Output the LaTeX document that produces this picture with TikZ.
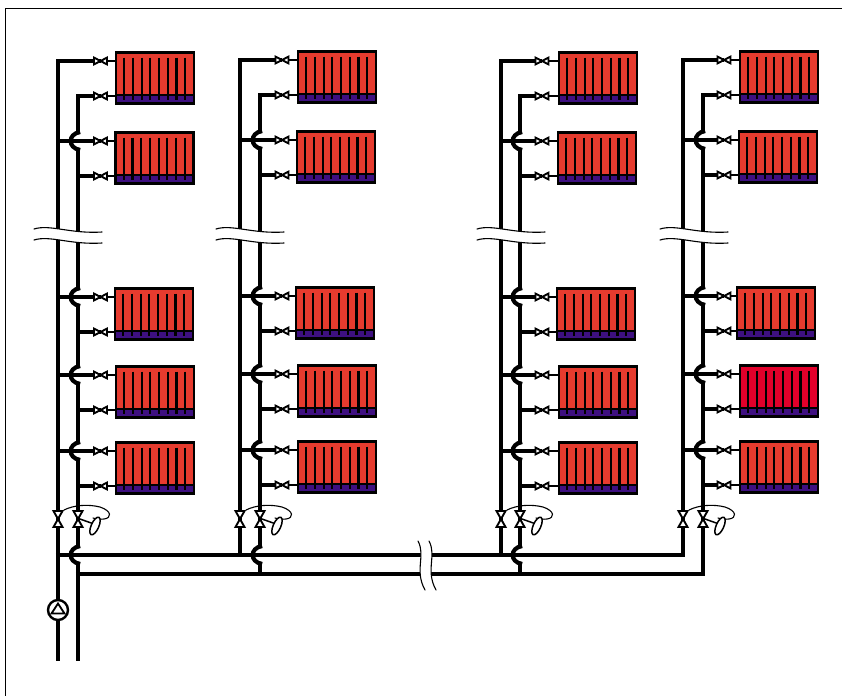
\documentclass[tikz,border=0pt]{standalone}
\definecolor{radred}{HTML}{E63B2E}
\definecolor{hotred}{HTML}{E2002A}
\definecolor{radblue}{HTML}{3E1080}
\tikzset{
  pipe/.style={line width=4.2pt,line cap=butt,line join=miter},
  stub/.style={line width=2.4pt},
  thinline/.style={line width=1.1pt,line cap=round},
  valvepart/.style={draw=black,fill=white,line width=1.9pt,line join=miter},
  radbody/.style={draw=black,line width=2.8pt,inner sep=0pt,outer sep=0pt,minimum width=78pt,minimum height=50.4pt},
  fin/.style={line width=2.1pt},
}
% horizontal valve: centre x, y
\newcommand{\valveH}[2]{%
  \draw[valvepart] (#1,#2) -- (#1-6.5,#2-3.4) -- (#1-6.5,#2+3.4) -- cycle;
  \draw[valvepart] (#1,#2) -- (#1+6.5,#2-3.4) -- (#1+6.5,#2+3.4) -- cycle;
}
\newcommand{\valveV}[2]{%
  \draw[valvepart] (#1,#2) -- (#1-4.5,#2-8) -- (#1+4.5,#2-8) -- cycle;
  \draw[valvepart] (#1,#2) -- (#1-4.5,#2+8) -- (#1+4.5,#2+8) -- cycle;
}
% radiator: name, left x, top y, colour
\newcommand{\radiator}[4]{%
  \node[radbody,fill=#4,anchor=north west] (#1) at (#2+0.9,#3+0.7) {};
  \fill[radblue] (#2+1,#3+43) rectangle (#2+79,#3+51);
  \foreach \k in {0,...,7}{\draw[fin] (#2+9.3+8.7*\k,#3+5.5) -- (#2+9.3+8.7*\k,#3+48);}
  \draw[black,line width=2.8pt] (#1.north west) rectangle (#1.south east);
  \draw[black,line width=1.2pt] (#1.west |- 0,#3+43) -- (#1.east |- 0,#3+43);
}
\newcommand{\gap}[2]{\draw[white,line width=5.5pt] (#1,#2-7) -- (#1,#2+7);}
% crossing hop on the return pipe at (x,y)
\newcommand{\hop}[2]{%
  \draw[pipe] (#1+2.1,#2-9) .. controls (#1-10.5,#2-7) and (#1-10.5,#2+7) .. (#1+2.1,#2+9);
}
% break marks across a riser
\newcommand{\breakmark}[2]{%
  \fill[white] (#1-24,#2-2) .. controls (#1-8,#2-7) and (#1+12,#2+3) .. (#1+44,#2+1)
     -- (#1+44,#2+12) .. controls (#1+12,#2+14) and (#1-8,#2+4) .. (#1-24,#2+9) -- cycle;
  \draw[thinline] (#1-24,#2-2) .. controls (#1-8,#2-7) and (#1+12,#2+3) .. (#1+44,#2+1);
  \draw[thinline] (#1-24,#2+9) .. controls (#1-8,#2+4) and (#1+12,#2+14) .. (#1+44,#2+12);
}
% regulator valves with capillary and handwheel: left, right pipe x
\newcommand{\regulator}[2]{%
  \valveV{#1}{519}\valveV{#2}{519}
  \draw[thinline] (#1+6,510) .. controls (#1+16,505) and (#1+30,504) .. (#1+42,507)
     .. controls (#1+54,511) and (#1+54,518) .. (#1+46,519) .. controls (#1+42,519.5) and (#1+38,519) .. (#1+35,518);
  \draw[line width=1.5pt] (#2+2,519) -- (#2+16,524);
  \draw[draw=black,fill=white,line width=1.5pt] (#2+17,526) ellipse[x radius=3.8,y radius=9.5,rotate=-24];
}
% one riser pair: left pipe, right pipe, valve x, y offset, bottom y
\newcommand{\riser}[5]{%
  \draw[pipe] (#1,#5) -- (#1,60+#4) -- (#3,60+#4);
  \draw[pipe] (#2,#5+19) -- (#2,95+#4) -- (#3,95+#4);
  \foreach \s/\r in {140/175,296/331,374/409,450/485}{
    \gap{#2}{\s+#4}
    \draw[pipe] (#1,\s+#4) -- (#3,\s+#4);
    \hop{#2}{\s+#4}
    \draw[pipe] (#2,\r+#4) -- (#3,\r+#4);
  }
  \foreach \s in {60,95,140,175,296,331,374,409,450,485}{
    \draw[stub] (#3,\s+#4) -- (#3+20,\s+#4);
    \valveH{#3}{\s+#4}
  }
}
\begin{document}
\begin{tikzpicture}[x=1pt,y=-1pt]
\useasboundingbox (0,0) rectangle (842,696);
\fill[white] (0,0) rectangle (842,696);
\draw[line width=0.9pt] (842,8.5) -- (5.5,8.5) -- (5.5,696);
% risers
\riser{58}{78}{100.5}{1}{555}
\riser{240}{260}{282}{0}{555}
\riser{501}{520}{542}{1}{555}
\riser{683}{703}{724}{0}{555}
% supply and return below the first riser
\draw[pipe] (58,555) -- (58,661);
\draw[pipe] (78,574) -- (78,661);
% gaps and mains
\gap{78}{555}\gap{260}{555}\gap{520}{555}
\draw[pipe] (55.9,555) -- (685.1,555);
\draw[pipe] (75.9,574) -- (705.1,574);
% hops at the main
\hop{78}{555}
\hop{260}{555}
\hop{520}{555}
% break marks
\breakmark{58}{231}
\breakmark{240}{231}
\breakmark{501}{231}
\breakmark{684}{231}
% break in the mains
\fill[white] (418,541) .. controls (426,556) and (414,570) .. (425,590) -- (436,590) .. controls (425,570) and (437,556) .. (429,541) -- cycle;
\draw[thinline] (418,541) .. controls (426,556) and (414,570) .. (425,590);
\draw[thinline] (429,541) .. controls (437,556) and (425,570) .. (436,590);
% regulators
\regulator{58}{78}
\regulator{240}{260}
\regulator{501}{520}
\regulator{683}{703}
% pump
\node[circle,draw=black,fill=white,line width=2.4pt,minimum size=20pt,inner sep=0pt,outer sep=0pt] (pump) at (58,610) {};
\draw[black,fill=white,line width=1.8pt,line join=miter] (58,603.5) -- (64.5,613.5) -- (51.5,613.5) -- cycle;
% radiators
\radiator{ra}{115}{52}{radred}
\radiator{rb}{114.5}{132}{radred}
\radiator{rc}{114}{288}{radred}
\radiator{rd}{115}{366}{radred}
\radiator{re}{115}{442}{radred}
\radiator{sa}{297}{51}{radred}
\radiator{sb}{296}{131}{radred}
\radiator{sc}{295}{287}{radred}
\radiator{sd}{297}{365}{radred}
\radiator{se}{297}{441}{radred}
\radiator{ta}{558}{52}{radred}
\radiator{tb}{557}{132}{radred}
\radiator{tc}{556}{288}{radred}
\radiator{td}{558}{366}{radred}
\radiator{te}{558}{442}{radred}
\radiator{ua}{739}{51}{radred}
\radiator{ub}{738}{131}{radred}
\radiator{uc}{736}{287}{radred}
\radiator{ud}{739}{365}{hotred}
\radiator{ue}{739}{441}{radred}
\end{tikzpicture}
\end{document}
